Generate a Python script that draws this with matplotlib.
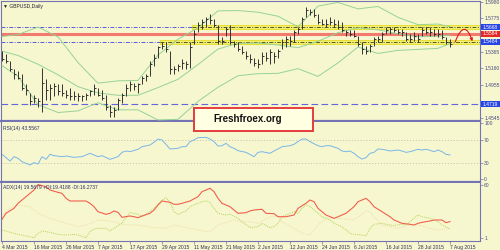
import matplotlib
matplotlib.use('Agg')
import matplotlib.pyplot as plt
import matplotlib.transforms as mtransforms
from matplotlib.patches import Rectangle, FancyArrowPatch
from matplotlib.path import Path

plt.rcParams['font.family'] = ['Liberation Sans', 'DejaVu Sans']

# daily GBPUSD bars, 4 Mar 2015 .. 7 Aug 2015 (113 trading days)
high = [1.5377, 1.5335, 1.5252, 1.5148, 1.5127, 1.5085, 1.4961, 1.4857, 1.4836, 1.4794,
        1.5169, 1.5023, 1.4961, 1.4981, 1.4961, 1.4961, 1.4898, 1.4919, 1.4877, 1.4857,
        1.4836, 1.4857, 1.4898, 1.4961, 1.4919, 1.4898, 1.4836, 1.4711, 1.4690, 1.4794,
        1.4857, 1.4961, 1.5002, 1.4981, 1.4981, 1.5065, 1.5085, 1.5252, 1.5335, 1.5439,
        1.5481, 1.5481, 1.5377, 1.5189, 1.5210, 1.5273, 1.5252, 1.5481, 1.5626, 1.5730,
        1.5772, 1.5793, 1.5834, 1.5772, 1.5689, 1.5543, 1.5668, 1.5689, 1.5501, 1.5481,
        1.5439, 1.5377, 1.5335, 1.5293, 1.5273, 1.5356, 1.5356, 1.5397, 1.5356, 1.5397,
        1.5522, 1.5564, 1.5564, 1.5626, 1.5668, 1.5793, 1.5917, 1.5896, 1.5896, 1.5834,
        1.5772, 1.5772, 1.5793, 1.5772, 1.5751, 1.5730, 1.5626, 1.5626, 1.5626, 1.5564,
        1.5481, 1.5439, 1.5460, 1.5543, 1.5564, 1.5605, 1.5668, 1.5668, 1.5668, 1.5647,
        1.5647, 1.5605, 1.5585, 1.5605, 1.5585, 1.5668, 1.5668, 1.5668, 1.5647, 1.5647,
        1.5626, 1.5543, 1.5522]
low = [1.5252, 1.5231, 1.5127, 1.5023, 1.5023, 1.4898, 1.4836, 1.4711, 1.4732, 1.4690,
       1.4628, 1.4773, 1.4773, 1.4815, 1.4836, 1.4815, 1.4794, 1.4773, 1.4773, 1.4752,
       1.4752, 1.4773, 1.4815, 1.4836, 1.4815, 1.4773, 1.4649, 1.4566, 1.4566, 1.4649,
       1.4732, 1.4815, 1.4877, 1.4898, 1.4857, 1.4961, 1.5002, 1.5065, 1.5189, 1.5293,
       1.5397, 1.5356, 1.5085, 1.5085, 1.5127, 1.5148, 1.5148, 1.5169, 1.5460, 1.5605,
       1.5647, 1.5668, 1.5710, 1.5668, 1.5460, 1.5460, 1.5564, 1.5460, 1.5418, 1.5377,
       1.5335, 1.5273, 1.5231, 1.5189, 1.5169, 1.5210, 1.5252, 1.5210, 1.5231, 1.5293,
       1.5397, 1.5418, 1.5439, 1.5481, 1.5585, 1.5647, 1.5793, 1.5813, 1.5793, 1.5710,
       1.5689, 1.5668, 1.5689, 1.5668, 1.5647, 1.5605, 1.5564, 1.5564, 1.5543, 1.5439,
       1.5335, 1.5335, 1.5356, 1.5439, 1.5481, 1.5481, 1.5585, 1.5585, 1.5605, 1.5585,
       1.5564, 1.5501, 1.5481, 1.5501, 1.5481, 1.5564, 1.5585, 1.5564, 1.5564, 1.5543,
       1.5522, 1.5460, 1.5418]
close = [1.5273, 1.5252, 1.5148, 1.5085, 1.5044, 1.4919, 1.4898, 1.4752, 1.4794, 1.4752,
         1.4981, 1.4898, 1.4919, 1.4940, 1.4877, 1.4857, 1.4836, 1.4815, 1.4815, 1.4815,
         1.4815, 1.4836, 1.4877, 1.4919, 1.4836, 1.4794, 1.4690, 1.4628, 1.4649, 1.4773,
         1.4836, 1.4919, 1.4961, 1.4940, 1.4961, 1.5044, 1.5065, 1.5210, 1.5293, 1.5418,
         1.5439, 1.5397, 1.5148, 1.5148, 1.5189, 1.5231, 1.5210, 1.5418, 1.5585, 1.5689,
         1.5730, 1.5772, 1.5751, 1.5689, 1.5501, 1.5501, 1.5647, 1.5481, 1.5460, 1.5397,
         1.5356, 1.5314, 1.5273, 1.5231, 1.5210, 1.5314, 1.5293, 1.5356, 1.5314, 1.5377,
         1.5481, 1.5522, 1.5501, 1.5605, 1.5647, 1.5772, 1.5876, 1.5855, 1.5813, 1.5730,
         1.5710, 1.5710, 1.5730, 1.5710, 1.5668, 1.5626, 1.5605, 1.5585, 1.5564, 1.5460,
         1.5397, 1.5377, 1.5439, 1.5522, 1.5522, 1.5585, 1.5626, 1.5647, 1.5626, 1.5605,
         1.5605, 1.5522, 1.5522, 1.5564, 1.5522, 1.5626, 1.5605, 1.5605, 1.5585, 1.5585,
         1.5543, 1.5481, 1.5460]

# Bollinger bands read at some of the bars
bb_idx = [0, 4, 9, 14, 19, 24, 29, 34, 39, 44, 49, 54, 59, 64, 69, 74, 79, 84, 89, 94, 99, 104, 109, 112]
bb_upper = [1.5551, 1.5576, 1.5668, 1.5547, 1.5231, 1.4977, 1.5006, 1.5011, 1.5323, 1.5518, 1.5659, 1.5867,
            1.5871, 1.5851, 1.5801, 1.5672, 1.5926, 1.5971, 1.5892, 1.5921, 1.5788, 1.5697, 1.5705, 1.5672]
bb_mid = [1.5372, 1.5318, 1.5210, 1.5081, 1.4934, 1.4857, 1.4828, 1.4828, 1.4923, 1.5025, 1.5206, 1.5397,
          1.5468, 1.5472, 1.5447, 1.5414, 1.5493, 1.5599, 1.5659, 1.5634, 1.5585, 1.5547, 1.5555, 1.5568]
bb_lower = [1.5194, 1.5061, 1.4711, 1.4616, 1.4636, 1.4736, 1.4649, 1.4649, 1.4524, 1.4532, 1.4753, 1.4927,
            1.5069, 1.5094, 1.5098, 1.5156, 1.5061, 1.5227, 1.5422, 1.5343, 1.5381, 1.5393, 1.5406, 1.5464]

rsi_idx = [0, 2, 3, 4, 5, 7, 8, 9, 10, 11, 12, 13, 15, 16, 18, 20, 21, 22, 24, 25, 27, 29, 30, 31, 32, 34, 35,
           37, 38, 39, 40, 41, 42, 44, 45, 46, 47, 48, 49, 51, 52, 53, 54, 55, 56, 57, 58, 59, 61, 62, 63, 64,
           65, 67, 68, 69, 70, 72, 73, 74, 75, 76, 77, 79, 80, 81, 82, 84, 85, 86, 87, 88, 89, 90, 91, 92, 93,
           94, 95, 96, 97, 99, 100, 101, 102, 104, 105, 106, 107, 108, 109, 110, 111, 112]
rsi_val = [44.8, 32.9, 40.6, 37.6, 31.7, 25.7, 29.9, 27.5, 40.6, 35.8, 44.8, 42.4, 40.6, 41.8, 39.4, 40.6, 43.6,
           46.6, 40.6, 42.4, 35.8, 40.6, 48.3, 50.7, 49.5, 53.7, 58.4, 61.4, 66.2, 72.1, 70.4, 62.6, 54.3, 55.5,
           58.4, 58.4, 67.4, 70.4, 74.5, 75.1, 72.1, 67.4, 59.6, 60.2, 64.4, 58.4, 55.5, 51.3, 48.3, 44.5, 40.6,
           48.3, 49.5, 46.6, 50.7, 54.3, 58.4, 60.2, 62.6, 67.4, 72.1, 72.1, 67.4, 60.2, 58.4, 60.2, 60.2, 55.5,
           50.7, 49.5, 50.7, 46.6, 40.6, 36.4, 38.8, 46.6, 48.3, 54.3, 53.7, 52.5, 50.7, 52.5, 50.7, 48.3, 49.5,
           53.7, 52.5, 53.7, 51.9, 49.5, 52.5, 49.5, 44.8, 43.6]

adx_idx = [0, 1, 3, 4, 6, 8, 9, 11, 12, 14, 15, 16, 17, 19, 21, 22, 23, 24, 26, 27, 28, 29, 30, 32, 33, 34, 35,
           37, 38, 39, 40, 42, 43, 44, 45, 47, 49, 50, 52, 53, 54, 55, 57, 58, 59, 61, 62, 63, 65, 66, 68, 69,
           71, 73, 74, 76, 77, 78, 79, 81, 83, 84, 86, 88, 89, 91, 92, 93, 95, 97, 98, 100, 102, 103, 104, 105,
           107, 108, 110, 111, 112]
adx_val = [21.6, 28.3, 33.9, 39.5, 46.9, 54.4, 60.5, 58.1, 54.4, 51.8, 50.7, 45.1, 42.1, 42.1, 42.1, 39.5, 35.7,
           30.1, 27.2, 28.3, 30.9, 29.4, 23.8, 25.3, 24.5, 23.4, 25.3, 28.3, 32.0, 37.6, 42.1, 40.6, 38.4, 38.4,
           39.5, 42.1, 46.9, 52.5, 56.3, 52.5, 45.1, 39.5, 35.7, 32.0, 28.3, 29.0, 31.0, 32.0, 32.8, 28.3, 27.9,
           24.5, 24.5, 26.4, 33.9, 39.5, 43.2, 41.3, 33.9, 26.4, 22.7, 24.5, 28.3, 35.7, 41.3, 45.1, 41.3, 35.7,
           30.1, 24.5, 20.8, 17.1, 16.0, 15.2, 17.1, 18.2, 19.7, 20.8, 20.8, 17.8, 19.0]

pdi_idx = [0, 2, 4, 7, 8, 9, 10, 12, 14, 16, 18, 19, 21, 22, 23, 24, 26, 27, 28, 30, 31, 32, 34, 35, 36, 38, 39,
           40, 41, 42, 43, 44, 46, 47, 49, 50, 51, 52, 53, 54, 56, 57, 59, 60, 62, 64, 65, 67, 68, 69, 70, 72,
           73, 74, 75, 76, 77, 78, 79, 80, 82, 83, 85, 87, 88, 90, 91, 92, 93, 95, 96, 98, 100, 101, 103, 104,
           105, 107, 109, 110, 112]
pdi_val = [9.6, 7.0, 4.7, 2.1, 1.0, 5.9, 8.5, 7.0, 4.7, 4.0, 4.7, 4.0, 1.0, 7.7, 10.7, 11.5, 11.5, 8.5, 11.5,
           17.1, 23.4, 29.4, 27.2, 24.5, 27.2, 33.9, 38.4, 43.2, 45.8, 40.6, 30.1, 27.2, 30.9, 35.7, 39.5, 41.3,
           42.1, 40.6, 33.9, 28.3, 26.4, 27.2, 22.7, 18.9, 12.4, 13.3, 17.1, 12.2, 13.3, 17.1, 24.5, 28.3, 30.1,
           28.3, 33.9, 37.6, 35.7, 32.0, 28.3, 24.5, 20.8, 17.1, 13.3, 5.9, 4.7, 4.0, 3.2, 11.5, 16.0, 17.1, 16.0,
           14.6, 16.0, 15.2, 22.7, 26.4, 24.5, 22.7, 18.9, 15.2, 10.7]

mdi_idx = [0, 2, 4, 7, 9, 12, 16, 19, 21, 24, 28, 31, 34, 38, 41, 43, 45, 49, 52, 54, 58, 60, 62, 64, 67, 69,
           70, 73, 75, 77, 79, 81, 84, 88, 91, 92, 93, 95, 99, 102, 104, 107, 109, 112]
mdi_val = [26.4, 33.9, 37.6, 35.7, 28.3, 22.7, 17.1, 13.3, 15.2, 20.8, 18.9, 15.2, 15.2, 12.2, 11.5, 15.2, 13.3,
           9.6, 7.7, 15.2, 20.8, 18.9, 18.9, 17.1, 24.5, 24.5, 18.9, 11.5, 5.9, 4.0, 15.2, 22.7, 22.7, 20.8, 30.9,
           30.1, 24.5, 15.2, 11.5, 15.2, 15.2, 11.5, 9.6, 11.5]

date_idx = [0, 8, 16, 24, 32, 40, 48, 56, 64, 72, 80, 88, 96, 104, 112]
date_labels = ['4 Mar 2015', '16 Mar 2015', '26 Mar 2015', '7 Apr 2015', '17 Apr 2015', '29 Apr 2015',
               '11 May 2015', '21 May 2015', '2 Jun 2015', '12 Jun 2015', '24 Jun 2015', '6 Jul 2015',
               '16 Jul 2015', '28 Jul 2015', '7 Aug 2015']
price_ticks = [1.5980, 1.5775, 1.5570, 1.5365, 1.5160, 1.4955, 1.4750, 1.4545]
# scale labels that sit under the level boxes are not readable in the chart
price_tick_labels = ['1.5980', '1.5775', '', '1.5365', '1.5160', '1.4955', '', '1.4545']

resistance = 1.5668
pivot = 1.5584
support = 1.5484
low_line = 1.4719

BG = '#F7F7CF'
FRAME = '#7474B4'
TXT = '#4A4A80'
FS = 3.6

fig = plt.figure(figsize=(5, 2.5), dpi=100, facecolor=BG)


def panel(y0, y1):
    # pixel rows of the 500x250 picture -> figure fraction
    return fig.add_axes([1 / 500, 1 - y1 / 250, 479 / 500, (y1 - y0) / 250], facecolor=BG)


ax = panel(1, 120.7)
ax_rsi = panel(121.5, 181.5)
ax_adx = panel(182.5, 241)

for a in (ax, ax_rsi, ax_adx):
    a.set_xlim(-0.25, 119.5)
    for s in a.spines.values():
        s.set_color(FRAME)
        s.set_linewidth(0.8)
    a.yaxis.tick_right()
    a.tick_params(axis='y', length=2, width=0.5, pad=1, labelsize=FS, colors=FRAME, labelcolor=TXT)
    a.tick_params(axis='x', length=0, labelbottom=False)
ax.spines['bottom'].set_linewidth(1.6)
ax_rsi.spines['bottom'].set_linewidth(1.6)
ax_rsi.spines['top'].set_visible(False)
ax_adx.spines['top'].set_visible(False)

# ---- main price panel
ax.set_ylim(1.45152, 1.59887)
ax.set_yticks(price_ticks)
ax.set_yticklabels(price_tick_labels)

xr = ax.get_xlim()[1]
ax.axhline(resistance, color='#5a5ae0', lw=0.7, ls=(0, (4, 1.5, 1, 1.5)), zorder=1)
ax.axhline(support, color='#5a5ae0', lw=0.7, ls=(0, (4, 1.5, 1, 1.5)), zorder=1)
for lvl, start in ((resistance, 47.5), (support, 39.5)):
    ax.add_patch(Rectangle((start, lvl - 0.0030), xr - start, 0.0060,
                           fc='#F3EF72', ec='#E4DC20', lw=0.6, zorder=2))
    ax.plot([start, xr], [lvl, lvl], color='#55552a', lw=0.7, ls=(0, (4, 1.5, 1, 1.5)), zorder=3)
ax.axhline(pivot, color='#F27A6E', lw=2.2, zorder=2)
ax.axhline(low_line, color='#6464DC', lw=0.8, ls=(0, (6, 3)), zorder=2)

ax.plot(bb_idx, bb_upper, color='#96D296', lw=0.7, zorder=3)
ax.plot(bb_idx, bb_mid, color='#96D296', lw=0.7, zorder=3)
ax.plot(bb_idx, bb_lower, color='#96D296', lw=0.7, zorder=3)

n = len(close)
ax.vlines(range(n), low, high, color='#333333', lw=0.7, zorder=4)
ax.hlines(close, [i for i in range(n)], [i + 0.45 for i in range(n)], color='#333333', lw=0.7, zorder=4)

# forecast arrow
arrow_path = Path([(113.3, 1.5485), (115.6, 1.5785), (117.6, 1.5492)],
                  [Path.MOVETO, Path.CURVE3, Path.CURVE3])
ax.add_patch(FancyArrowPatch(path=arrow_path, arrowstyle='-|>', mutation_scale=4,
                             color='#E01818', lw=0.8, zorder=6))

# level boxes on the price scale
trans = mtransforms.blended_transform_factory(ax.transAxes, ax.transData)
for lvl, col in ((resistance, '#2846E6'), (pivot, '#E42828'), (support, '#2846E6'), (low_line, '#2846E6')):
    ax.add_patch(Rectangle((1.0015, lvl - 0.0037), 0.041, 0.0074, transform=trans,
                           fc=col, ec='none', clip_on=False, zorder=10))
    ax.text(1.022, lvl, f'{lvl:.4f}', transform=trans, ha='center', va='center',
            fontsize=FS, color='white', clip_on=False, zorder=11)

ax.text(0.005, 0.975, '▼ GBPUSD,Daily', transform=ax.transAxes, ha='left', va='top',
        fontsize=FS, color='#202030')

# ---- RSI panel
ax_rsi.set_ylim(-3.75, 103.4)
ax_rsi.set_yticks([100, 70, 30, 0])
ax_rsi.set_yticklabels(['100', '70', '30', '0'])
for lvl in (70, 30):
    ax_rsi.axhline(lvl, color='#C4C4AE', lw=0.6, ls=(0, (1.5, 2)))
ax_rsi.plot(rsi_idx, rsi_val, color='#78B6EA', lw=0.7)
ax_rsi.text(0.005, 0.93, 'RSI(14) 43.5567', transform=ax_rsi.transAxes, ha='left', va='top',
            fontsize=FS, color='#303068')

# ---- ADX panel
ax_adx.set_ylim(-2.7, 62.8)
ax_adx.set_yticks([60, 1])
ax_adx.set_yticklabels(['60', '1'])
ax_adx.plot(mdi_idx, mdi_val, color='#EEDDA8', lw=0.7, ls=(0, (1, 1)))
ax_adx.plot(pdi_idx, pdi_val, color='#B4D45A', lw=0.7, ls=(0, (1, 1)))
ax_adx.plot(adx_idx, adx_val, color='#F0604E', lw=0.8)
ax_adx.text(0.005, 0.95, 'ADX(14) 19.5679 +DI:19.4188 -DI:16.2737', transform=ax_adx.transAxes,
            ha='left', va='top', fontsize=FS, color='#303068')
ax_adx.set_xticks(date_idx)
ax_adx.set_xticklabels(date_labels, ha='left')
ax_adx.tick_params(axis='x', length=2, width=0.5, pad=1.2, labelsize=FS, colors=FRAME,
                   labelcolor='#303058', labelbottom=True)

# watermark box
fig.add_artist(Rectangle((194 / 500, 1 - 131 / 250), 119 / 500, 23 / 250, transform=fig.transFigure,
                         fc='#FFFFE2', ec='#E43C3C', lw=1.4, zorder=20))
fig.text(247.5 / 500, 1 - 119.5 / 250, 'Freshfroex.org', ha='center', va='center',
         fontsize=7, fontweight='bold', color='#111111', zorder=21)

fig.savefig('out.png', dpi=100, facecolor=BG)
